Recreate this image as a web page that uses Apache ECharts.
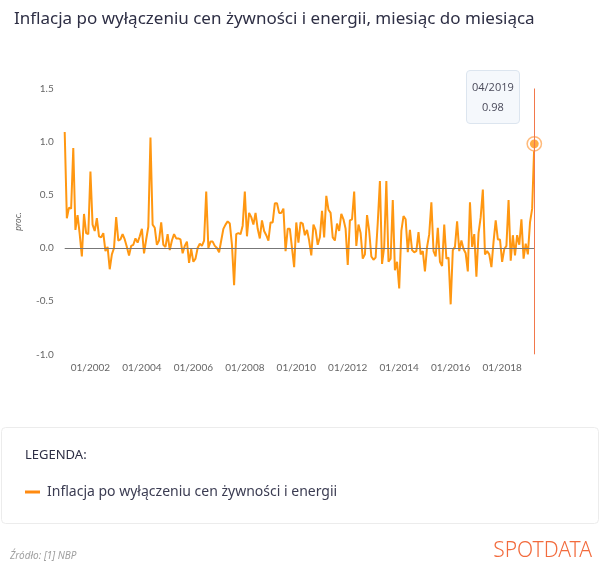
<!DOCTYPE html>
<html>
<head>
<meta charset="utf-8">
<script src="https://cdn.jsdelivr.net/npm/echarts@6/dist/echarts.min.js"></script>
<style>
  html, body { margin: 0; padding: 0; background: #fff; }
  #chart { width: 600px; height: 583px; }
</style>
</head>
<body>
<div id="chart"></div>
<script>
// miesiace 01/2001 - 04/2019
var startYear = 2001;
var startMonth = 1;
var seriesName = 'Inflacja po wyłączeniu cen żywności i energii';

var values = [
  1.09, 0.28, 0.38, 0.37, 0.94, 0.17, 0.31, 0.13, -0.08, 0.32, 0.14, 0.13,
  0.72, 0.22, 0.16, 0.28, 0.11, 0.10, 0.14, -0.03, 0.01, -0.20, -0.06, 0.00,
  0.29, 0.07, 0.08, 0.13, 0.08, 0.01, -0.07, 0.02, 0.03, 0.09, 0.05, 0.11,
  0.18, -0.05, 0.08, 0.20, 1.04, 0.22, 0.19, 0.03, 0.07, 0.24, 0.03, 0.01,
  0.13, -0.02, 0.07, 0.13, 0.09, 0.09, 0.08, -0.05, 0.02, 0.06, -0.14, -0.01,
  -0.13, -0.10, 0.00, 0.04, 0.02, 0.07, 0.53, 0.00, 0.06, 0.06, 0.02, 0.00,
  -0.04, 0.07, 0.18, 0.22, 0.25, 0.23, 0.03, -0.35, 0.13, 0.14, 0.13, 0.21,
  0.53, 0.11, 0.33, 0.29, 0.22, 0.33, 0.18, 0.09, 0.26, 0.16, 0.12, 0.07,
  0.24, 0.24, 0.42, 0.42, 0.33, 0.33, 0.37, -0.03, 0.18, 0.18, 0.00, -0.18,
  0.24, 0.05, 0.24, 0.23, 0.12, 0.17, 0.07, -0.07, 0.22, 0.17, 0.03, 0.10,
  0.35, 0.10, 0.49, 0.36, 0.33, 0.10, 0.07, 0.23, 0.16, 0.32, 0.27, 0.18,
  -0.16, 0.26, 0.27, 0.53, 0.02, 0.22, 0.14, -0.10, -0.06, 0.31, 0.16, -0.08,
  -0.11, -0.09, 0.24, 0.63, -0.15, 0.01, 0.63, -0.13, -0.10, 0.45, -0.21, -0.13,
  -0.38, 0.16, 0.30, 0.27, -0.04, 0.17, -0.02, -0.04, -0.03, 0.15, -0.06, -0.03,
  -0.22, 0.01, 0.13, 0.43, -0.03, -0.08, 0.19, -0.13, -0.17, 0.22, -0.10, -0.09,
  -0.53, -0.02, 0.01, 0.25, -0.03, 0.07, -0.01, -0.05, -0.22, 0.43, 0.01, 0.13,
  -0.27, 0.14, 0.29, 0.55, -0.06, -0.03, -0.06, -0.18, 0.06, 0.26, 0.08, 0.08,
  -0.13, -0.01, 0.02, 0.45, -0.12, 0.12, -0.07, 0.12, 0.03, 0.27, -0.10, 0.04,
  -0.06, 0.24, 0.37, 0.98
];

var categories = [];
for (var i = 0; i < values.length; i++) {
  var m = (startMonth - 1 + i) % 12 + 1;
  var y = startYear + Math.floor((startMonth - 1 + i) / 12);
  categories.push((m < 10 ? '0' + m : '' + m) + '/' + y);
}

var lastIdx = values.length - 1;
var lastPoint = [[lastIdx, values[lastIdx]]];

var myChart = echarts.init(document.getElementById('chart'));

var option = {
  animation: false,
  textStyle: { fontFamily: 'Lato' },
  title: {
    text: 'Inflacja po wyłączeniu cen żywności i energii, miesiąc do miesiąca',
    left: 9, top: 6,
    textStyle: { fontFamily: 'Noto Sans', fontSize: 17, fontWeight: 'normal', color: '#2e2f45' }
  },
  grid: { left: 64.7, right: 65.7, top: 88.5, bottom: 228.7, containLabel: false },
  tooltip: {
    trigger: 'axis',
    alwaysShowContent: true,
    triggerOn: 'none',
    axisPointer: { type: 'line', lineStyle: { color: '#f2784b', width: 1, type: 'solid' } },
    position: function () { return [466, 70]; },
    backgroundColor: '#f5f8fc',
    borderColor: '#dce5ef',
    borderWidth: 1,
    padding: [6, 5],
    extraCssText: 'box-shadow:none;border-radius:4px;text-align:center;line-height:20px;',
    textStyle: { fontFamily: 'Open Sans', fontSize: 11, color: '#4a4a5a' },
    formatter: function (p) {
      return p[0].name + '<br/>' + p[0].value;
    }
  },
  legend: {
    data: [seriesName],
    left: 20, top: 480,
    icon: 'rect', itemWidth: 15, itemHeight: 3, itemGap: 10,
    selectedMode: false,
    textStyle: { fontFamily: 'Noto Sans', fontSize: 14, color: '#3b3c52', padding: [0, 0, 0, 2] }
  },
  xAxis: {
    type: 'category',
    data: categories,
    boundaryGap: false,
    axisLine: { show: false },
    axisTick: { show: false },
    axisLabel: {
      margin: 8, fontSize: 10, color: '#666',
      interval: function (idx) { return (idx - 12) % 24 === 0 && idx >= 12; }
    }
  },
  yAxis: {
    type: 'value',
    min: -1, max: 1.5, interval: 0.5,
    name: 'proc.',
    nameLocation: 'middle',
    nameGap: 42,
    nameRotate: 90,
    nameTextStyle: { fontStyle: 'italic', fontSize: 9, color: '#666' },
    axisLine: { show: false },
    axisTick: { show: false },
    splitLine: { show: false },
    axisLabel: { margin: 11, fontSize: 10, color: '#666', formatter: function (v) { return v.toFixed(1); } }
  },
  series: [
    {
      name: seriesName,
      type: 'line',
      data: values,
      symbol: 'none',
      color: '#ff8a10',
      lineStyle: { width: 2, color: '#ff8a10' },
      markLine: {
        silent: true,
        symbol: 'none',
        label: { show: false },
        lineStyle: { color: '#777', width: 1, type: 'solid' },
        data: [{ yAxis: 0 }]
      }
    },
    {
      type: 'scatter',
      data: lastPoint,
      symbolSize: 13,
      silent: true,
      z: 5,
      itemStyle: { color: '#fff', borderColor: '#ffa95a', borderWidth: 1.5 }
    },
    {
      type: 'scatter',
      data: lastPoint,
      symbolSize: 8,
      silent: true,
      z: 6,
      itemStyle: { color: '#ff8a10' }
    }
  ],
  graphic: [
    {
      type: 'rect', left: 1, top: 427, silent: true, z: -1,
      shape: { width: 597, height: 96, r: 4 },
      style: { fill: '#fff', stroke: '#ececec', lineWidth: 1 }
    },
    {
      type: 'text', left: 25, top: 449,
      style: { text: 'LEGENDA:', font: '13px "Noto Sans"', fill: '#2e2f45' }
    },
    {
      type: 'text', left: 10, top: 551,
      style: { text: 'Źródło: [1] NBP', font: 'italic 10px "Noto Sans"', fill: '#a0a0a0' }
    },
    {
      type: 'text', right: 8, top: 541,
      style: { text: 'SPOTDATA', font: '300 21px "Noto Sans"', fill: '#f26b3d' }
    }
  ]
};

myChart.setOption(option);
myChart.dispatchAction({ type: 'showTip', seriesIndex: 0, dataIndex: lastIdx });
</script>
</body>
</html>
